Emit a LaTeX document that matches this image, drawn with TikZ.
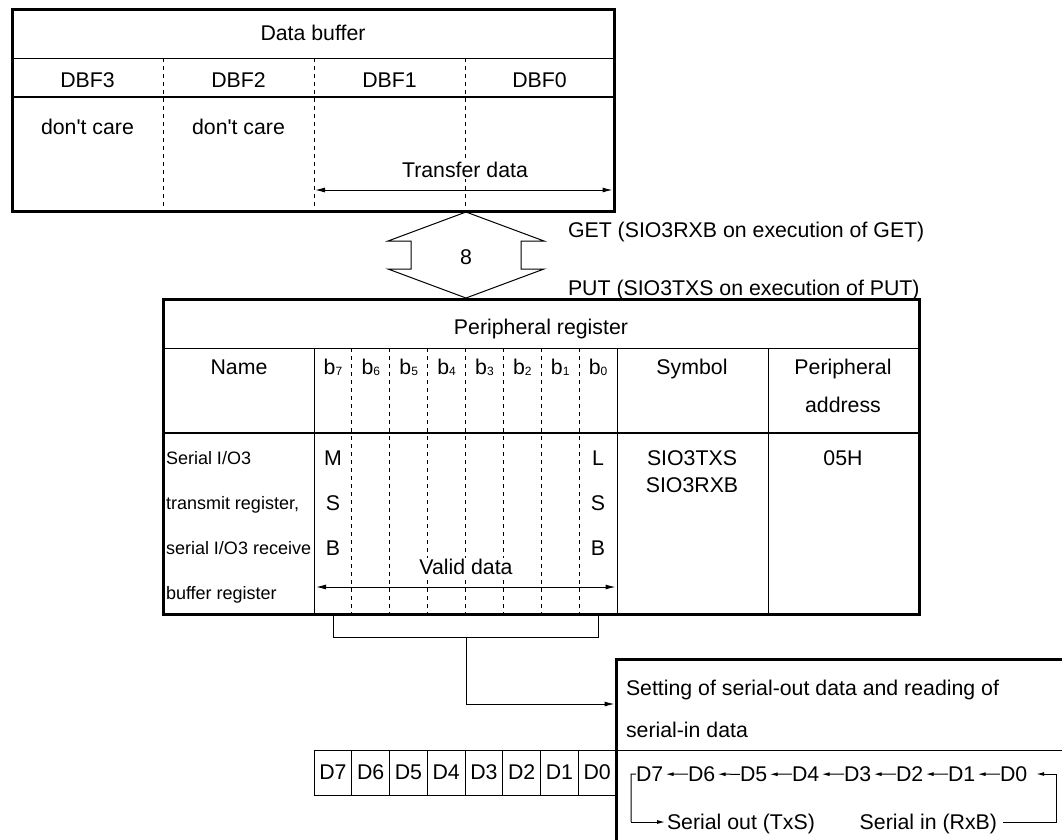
\documentclass[tikz,border=0pt]{standalone}
\usepackage{fontspec}
\setmainfont{Liberation Sans}[Ligatures=TeXOff]
\usetikzlibrary{arrows.meta}
\newcommand\bsub[1]{b\raisebox{-1pt}{\fontsize{12}{12}\selectfont #1}}
\begin{document}
\begin{tikzpicture}[x=1pt,y=-1pt,
  every node/.style={inner sep=0pt, outer sep=0pt, font=\fontsize{21.3}{25}\selectfont},
  t/.style={anchor=base},
  tw/.style={anchor=base west},
  te/.style={anchor=base east},
  small/.style={font=\fontsize{18}{21}\selectfont},
  knock/.style={fill=white, inner xsep=2pt, inner ysep=1pt},
  thinline/.style={line width=1pt},
  thickline/.style={line width=3pt},
  midline/.style={line width=2.2pt},
  dashline/.style={line width=1pt, dash pattern=on 4pt off 4pt},
  arr/.style={-{Latex[length=10pt,width=5pt]}},
  sarr/.style={-{Latex[length=8pt,width=4pt]}},
  darr/.style={{Latex[length=10pt,width=5pt]}-{Latex[length=10pt,width=5pt]}},
]
\useasboundingbox (0,0) rectangle (1062,839);

% ---------- Data buffer table ----------
\draw[thinline] (12,58) -- (614,58);
\draw[midline] (12,97) -- (614,97);
\foreach \x in {163,314,465} \draw[dashline] (\x,58) -- (\x,211);
\node[t] (dbtitle) at (313,40.5) {Data buffer};
\node[t] (dbf3) at (87.5,87.5) {DBF3};
\node[t] (dbf2) at (238.5,87.5) {DBF2};
\node[t] (dbf1) at (389.5,87.5) {DBF1};
\node[t] (dbf0) at (539.5,87.5) {DBF0};
\node[t] (dc3) at (87.5,134.5) {don't care};
\node[t] (dc2) at (238.5,134.5) {don't care};
\node[t,knock] (tdata) at (465,177.5) {Transfer data};
\coordinate (ta) at (315,190);
\coordinate (tb) at (612.5,190);
\draw[thinline,darr] (ta) -- (tb);

% ---------- bus arrow ----------
\draw[thinline, fill=white] (466,212) -- (544,241) -- (521,241) -- (521,269) -- (544,269)
  -- (466,298) -- (388,269) -- (411,269) -- (411,241) -- (388,241) -- cycle;
\draw[thickline] (12,9) rectangle (614,211);
\node[t] (eight) at (466,264.5) {8};
\node[tw] (get) at (568,237.5) {GET (SIO3RXB on execution of GET)};
\node[tw] (put) at (568,295.5) {PUT (SIO3TXS on execution of PUT)};

% ---------- Peripheral register table ----------
\draw[thinline] (163,348) -- (919,348);
\draw[midline] (163,433) -- (919,433);
\foreach \x in {314,617,768} \draw[thinline] (\x,348) -- (\x,614);
\foreach \k in {1,...,7} \draw[dashline] ({314+37.875*\k},348) -- ({314+37.875*\k},614);
\draw[thickline] (163,299) rectangle (919,614);
\node[t] (prtitle) at (541,334.5) {Peripheral register};
\node[t] (hname) at (239,374.5) {Name};
\foreach \k/\b in {0/7,1/6,2/5,3/4,4/3,5/2,6/1,7/0}
  \node[t] (hb\b) at ({314+37.875*(\k+0.5)},374.5) {\bsub{\b}};
\node[t] (hsym) at (692,374.5) {Symbol};
\node[t] (hpa1) at (843,374.5) {Peripheral};
\node[t] (hpa2) at (843,412.5) {address};
\node[tw,small] (n1) at (166,464.5) {Serial I/O3};
\node[tw,small] (n2) at (166,509.5) {transmit register,};
\node[tw,small] (n3) at (166,554.5) {serial I/O3 receive};
\node[tw,small] (n4) at (166,599.5) {buffer register};
\node[t] (m1) at (333,465.5) {M};
\node[t] (m2) at (333,510.5) {S};
\node[t] (m3) at (333,555.5) {B};
\node[t] (l1) at (598,465.5) {L};
\node[t] (l2) at (598,510.5) {S};
\node[t] (l3) at (598,555.5) {B};
\node[t,knock] (vdata) at (466,574.5) {Valid data};
\coordinate (va) at (316,587);
\coordinate (vb) at (615.5,587);
\draw[thinline,darr] (va) -- (vb);
\node[t] (sym1) at (692,465.5) {SIO3TXS};
\node[t] (sym2) at (692,492.5) {SIO3RXB};
\node[t] (addr) at (843,465.5) {05H};

% ---------- bracket and connector ----------
\coordinate (bk1) at (333,615.5);
\coordinate (bk2) at (598,615.5);
\coordinate (bkm) at (466,637);
\draw[thinline] (bk1) |- (bkm) -| (bk2);
\coordinate (boxin) at (614.5,704);
\draw[thinline,arr] (bkm) |- (boxin);

% ---------- serial box ----------
\draw[thinline] (616,750) -- (1064,750);
\draw[thickline] (616,842) -- (616,659) -- (1066,659);
\node[tw] (set1) at (626,695.5) {Setting of serial-out data and reading of};
\node[tw] (set2) at (626,737.5) {serial-in data};

% D row
\draw[thinline] (314,750) rectangle (616,795);
\foreach \k in {1,...,7} \draw[thinline] ({314+37.75*\k},750) -- ({314+37.75*\k},795);
\foreach \k/\b in {0/7,1/6,2/5,3/4,4/3,5/2,6/1,7/0}
  \node[t] (cd\b) at ({314+37.75*(\k+0.5)},779.5) {D\b};

% shift chain
\foreach \k/\b in {0/7,1/6,2/5,3/4,4/3,5/2,6/1,7/0}
  \node[tw] (s\b) at ({636+52*\k},781.5) {D\b};
\foreach \a/\b in {6/7,5/6,4/5,3/4,2/3,1/2,0/1}
  \draw[thinline,sarr,shorten >=2.5pt] (s\a.west) -- (s\b.east);
\node[tw] (sout) at (667,829.5) {Serial out (TxS)};
\node[te] (sin) at (997,829.5) {Serial in (RxB)};
\coordinate (L1) at (631,774);
\coordinate (L2) at (631,822);
\coordinate (R1) at (1056,774);
\coordinate (R2) at (1056,822);
\coordinate (sinend) at (1003,822);
\draw[thinline] (s7.west) -- (L1) -- (L2);
\draw[thinline,sarr,shorten >=2pt] (L2) -- (sout.west |- L2);
\draw[thinline,sarr,shorten >=9pt] (sinend) -- (R2) -- (R1) -- (s0.east |- R1);
\end{tikzpicture}
\end{document}
